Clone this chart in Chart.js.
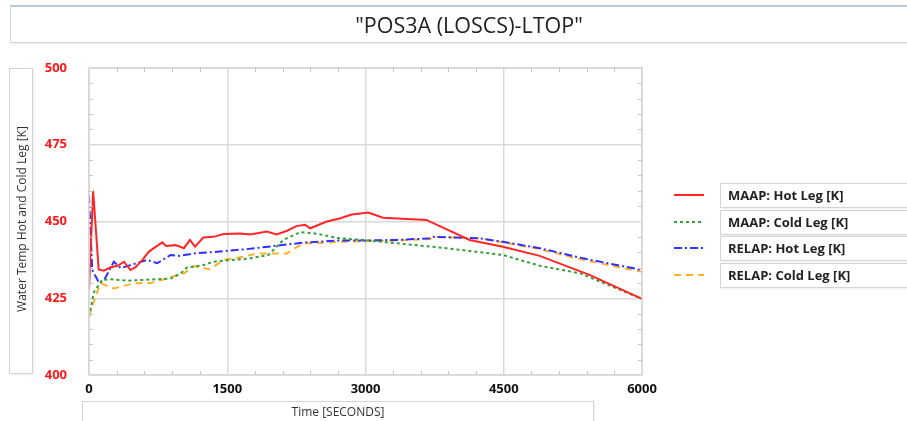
<!DOCTYPE html>
<html>
<head>
<meta charset="utf-8">
<script src="https://cdn.jsdelivr.net/npm/chart.js@4"></script>
<style>
  body { margin: 0; background: #fff; font-family: "Open Sans", sans-serif; }
  #wrap { position: relative; width: 907px; height: 421px; overflow: hidden; }
  #grafico { position: absolute; left: 0; top: 0; }
  .caixa { position: absolute; border: 1px solid #d4d4d4; background: #fff; box-shadow: 1px 1px 2px rgba(0,0,0,0.08); }
  #titulo { left: 10px; top: 5px; width: 916px; height: 35px; border-top: 2px solid #b9cadb;
    text-align: center; line-height: 36px; font-size: 21.5px; color: #222; }
  #tituloY { left: 9px; top: 68px; width: 22px; height: 304px; }
  #tituloY span { position: absolute; left: 11px; top: 150px; transform: translate(-50%, -50%) rotate(-90deg);
    white-space: nowrap; font-size: 12px; color: #333; }
  #tituloX { left: 82px; top: 401px; width: 510px; height: 24px; text-align: center;
    line-height: 20px; font-size: 12px; color: #333; }
  .leg-linha { position: absolute; left: 673px; width: 32px; height: 6px; }
  .leg-caixa { left: 720px; width: 200px; height: 23px; line-height: 23px; padding-left: 7px;
    font-size: 13px; font-weight: bold; color: #222; }
</style>
</head>
<body>
<div id="wrap">
  <canvas id="grafico" width="907" height="421"></canvas>
  <div class="caixa" id="titulo">"POS3A (LOSCS)-LTOP"</div>
  <div class="caixa" id="tituloY"><span>Water Temp Hot and Cold Leg [K]</span></div>
  <div class="caixa" id="tituloX">Time [SECONDS]</div>
  <div id="legenda"></div>
</div>
<script>
// dados (tempo em s, temperatura em K)
const maapHotT = [0, 45, 105, 160, 235, 305, 380, 450, 505, 580, 650, 795, 835, 940, 1030, 1095, 1150, 1240, 1350, 1460, 1640, 1750, 1930, 2035, 2150, 2250, 2345, 2400, 2580, 2720, 2850, 3030, 3190, 3660, 4130, 4490, 4890, 5430, 6000];
const maapHotK = [427.8, 460, 434.4, 434, 435.1, 435.5, 436.9, 434.2, 435.1, 437.5, 440.2, 443.2, 442, 442.3, 441.3, 444, 441.8, 444.8, 445, 445.9, 446.1, 445.8, 446.7, 445.8, 447, 448.5, 448.9, 447.8, 450, 451, 452.3, 452.9, 451.2, 450.5, 444, 441.8, 438.8, 432.6, 424.8];

const maapColdT = [0, 55, 145, 235, 415, 600, 740, 885, 995, 1065, 1140, 1240, 1350, 1460, 1750, 1945, 2110, 2290, 2430, 2540, 2720, 2975, 3340, 3880, 4490, 4890, 5330, 6000];
const maapColdK = [419, 427.1, 431, 431.2, 430.7, 431, 431.2, 431.4, 433.1, 435.1, 435.3, 435.8, 436.9, 437.2, 438, 439.1, 444, 446.5, 446.2, 445.6, 444.5, 444, 442.9, 441.3, 439.1, 435.6, 433.1, 424.8];

const relapHotT = [0, 35, 110, 165, 270, 345, 450, 630, 740, 885, 985, 1140, 1420, 1710, 2000, 2360, 2720, 2975, 3340, 3700, 3735, 4240, 4490, 4890, 5360, 6000];
const relapHotK = [458.6, 434.2, 430, 431, 436.9, 434.8, 435.8, 437.5, 436.4, 439.1, 438.8, 439.6, 440.2, 441, 442, 443.2, 443.8, 443.8, 444, 444.5, 445, 444.5, 443.4, 441.3, 438, 434.2];

const relapColdT = [0, 70, 125, 270, 490, 670, 850, 1030, 1140, 1310, 1460, 1675, 1820, 2145, 2325, 2430, 2720, 3340, 3700, 3735, 4240, 4490, 4890, 5360, 6000];
const relapColdK = [419, 425.5, 429.9, 428.2, 429.9, 430, 431.5, 433.1, 435.5, 434.4, 437.5, 438.5, 439.6, 439.6, 442.9, 442.9, 443.4, 443.8, 444.3, 445, 444.5, 443.2, 441, 437.5, 433.6];

const xTicks = [0, 1500, 3000, 4500, 6000];
const yTicks = [400, 425, 450, 475, 500];

const series = [
  { label: 'MAAP: Hot Leg [K]', t: maapHotT, k: maapHotK, cor: '#ff2626', dash: [] },
  { label: 'MAAP: Cold Leg [K]', t: maapColdT, k: maapColdK, cor: '#35a035', dash: [3, 3] },
  { label: 'RELAP: Hot Leg [K]', t: relapHotT, k: relapHotK, cor: '#2f2fff', dash: [8, 3, 2, 3] },
  { label: 'RELAP: Cold Leg [K]', t: relapColdT, k: relapColdK, cor: '#ffb02a', dash: [7, 5] }
];

// legenda em html
const leg = document.getElementById('legenda');
series.forEach((s, i) => {
  const topo = 183 + i * 26.5;
  leg.insertAdjacentHTML('beforeend',
    `<svg class="leg-linha" style="top:${topo + 9}px" width="32" height="6"><line x1="1" y1="3" x2="31" y2="3" stroke="${s.cor}" stroke-width="2" stroke-dasharray="${s.dash.join(',') || 'none'}"/></svg>` +
    `<div class="caixa leg-caixa" style="top:${topo}px">${s.label}</div>`);
});

// marcas menores e moldura da área do gráfico
const marcasMenores = {
  id: 'marcasMenores',
  afterDraw(chart) {
    const { ctx, chartArea: a, scales: { x, y } } = chart;
    ctx.save();
    ctx.strokeStyle = '#d6d6d6';
    ctx.lineWidth = 1.5;
    ctx.strokeRect(a.left, a.top, a.right - a.left, a.bottom - a.top);
    ctx.strokeStyle = '#c4c4c4';
    ctx.lineWidth = 1;
    ctx.beginPath();
    for (let v = 300; v < 6000; v += 300) {
      if (v % 1500 === 0) continue;
      const px = Math.round(x.getPixelForValue(v)) + 0.5;
      ctx.moveTo(px, a.top); ctx.lineTo(px, a.top + 4);
      ctx.moveTo(px, a.bottom); ctx.lineTo(px, a.bottom - 4);
    }
    for (let v = 405; v < 500; v += 5) {
      if (v % 25 === 0) continue;
      const py = Math.round(y.getPixelForValue(v)) + 0.5;
      ctx.moveTo(a.left, py); ctx.lineTo(a.left + 4, py);
      ctx.moveTo(a.right, py); ctx.lineTo(a.right - 4, py);
    }
    ctx.stroke();
    ctx.restore();
  }
};

const ctx = document.getElementById('grafico').getContext('2d');
const grafico = new Chart(ctx, {
  type: 'line',
  data: {
    datasets: series.map(s => ({
      label: s.label,
      data: s.t.map((t, i) => ({ x: t, y: s.k[i] })),
      borderColor: s.cor,
      backgroundColor: s.cor,
      borderWidth: 2,
      borderDash: s.dash,
      pointRadius: 0,
      tension: 0,
      fill: false
    }))
  },
  options: {
    responsive: false,
    animation: false,
    layout: { padding: { left: 0, top: 68, right: 265, bottom: 0 } },
    plugins: { legend: { display: false }, tooltip: { enabled: false } },
    scales: {
      x: {
        type: 'linear', min: 0, max: 6000,
        afterFit: s => { s.height = 46; },
        afterBuildTicks: s => { s.ticks = xTicks.map(v => ({ value: v })); },
        grid: { color: '#d9d9d9', lineWidth: 1.5, drawTicks: false },
        border: { display: false },
        ticks: { color: '#111', padding: 6, callback: v => String(v), font: { family: 'Open Sans', size: 13, weight: 'bold' } }
      },
      y: {
        min: 400, max: 500,
        afterFit: s => { s.width = 89; },
        afterBuildTicks: s => { s.ticks = yTicks.map(v => ({ value: v })); },
        grid: { color: '#d9d9d9', lineWidth: 1.5, drawTicks: false },
        border: { display: false },
        ticks: { color: '#ff1a1a', padding: 22, callback: v => String(v), font: { family: 'Open Sans', size: 13, weight: 'bold' } }
      }
    }
  },
  plugins: [marcasMenores]
});
</script>
</body>
</html>
